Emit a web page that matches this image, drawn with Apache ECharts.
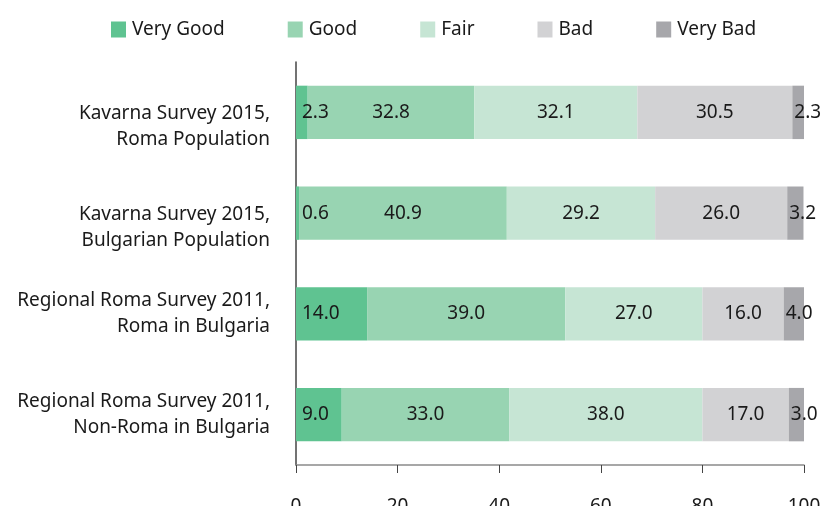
<!DOCTYPE html>
<html>
<head>
<meta charset="utf-8">
<script src="https://cdn.jsdelivr.net/npm/echarts@6/dist/echarts.min.js"></script>
<style>
  html, body { margin: 0; padding: 0; background: #fff; }
  #chart { width: 825px; height: 506px; }
</style>
</head>
<body>
<div id="chart"></div>
<script>
// survey groups, top to bottom
const categories = [
  'Kavarna Survey 2015,\nRoma Population',
  'Kavarna Survey 2015,\nBulgarian Population',
  'Regional Roma Survey 2011,\nRoma in Bulgaria',
  'Regional Roma Survey 2011,\nNon-Roma in Bulgaria'
]
const seriesNames = ['Very Good', 'Good', 'Fair', 'Bad', 'Very Bad']
const veryGood = [2.3, 0.6, 14.0, 9.0]
const good = [32.8, 40.9, 39.0, 33.0]
const fair = [32.1, 29.2, 27.0, 38.0]
const bad = [30.5, 26.0, 16.0, 17.0]
const veryBad = [2.3, 3.2, 4.0, 3.0]
const xTicks = [0, 20, 40, 60, 80, 100]

const colors = ['#5fc391', '#98d4b2', '#c6e5d4', '#d2d2d4', '#a7a7ab']
const font = 'Noto Sans'
const fontSize = 19

let chart = echarts.init(document.getElementById('chart'))

function makeSeries(name, values, idx) {
  let labelPos = 'inside'
  let dist = 5
  if (idx === 0) { labelPos = 'insideLeft'; dist = 6 }
  if (idx === 4) { labelPos = 'insideLeft'; dist = 2 }
  return {
    name: name,
    type: 'bar',
    stack: 'total',
    barWidth: '53%',
    itemStyle: { color: colors[idx] },
    label: {
      show: true,
      position: labelPos,
      distance: dist,
      color: '#1a1a1a',
      fontFamily: font,
      fontSize: fontSize,
      formatter: p => p.value.toFixed(1)
    },
    emphasis: { disabled: true },
    data: values
  }
}

let option = {
  animation: false,
  legend: {
    left: 106,
    top: 15,
    itemWidth: 15,
    itemHeight: 16,
    itemGap: 63,
    icon: 'rect',
    textStyle: { fontFamily: font, fontSize: fontSize, color: '#1a1a1a', padding: [0, 0, 0, 1] },
    data: seriesNames
  },
  grid: {
    left: 296,
    right: 21,
    top: 62,
    bottom: 41,
    outerBoundsMode: 'none'
  },
  xAxis: {
    type: 'value',
    min: 0,
    max: 100,
    interval: 20,
    axisLine: { show: true, lineStyle: { color: '#8a8a8a', width: 1.5 } },
    axisTick: { show: true, length: 8, lineStyle: { color: '#444' } },
    splitLine: { show: false },
    axisLabel: {
      margin: 32,
      fontFamily: font,
      fontSize: fontSize,
      color: '#1a1a1a',
      formatter: v => xTicks.includes(v) ? String(v) : ''
    }
  },
  yAxis: {
    type: 'category',
    inverse: true,
    data: categories,
    axisLine: { show: true, lineStyle: { color: '#444', width: 1.5 } },
    axisTick: { show: false },
    axisLabel: {
      margin: 26,
      color: '#1a1a1a',
      fontFamily: font,
      fontSize: fontSize,
      align: 'right',
      formatter: (v, i) => {
        let lines = v.split('\n').map(s => '{t|' + s + '}')
        // the Kavarna labels sit a bit lower than their bars
        if (i < 2) lines.unshift('{sp| }')
        return lines.join('\n')
      },
      rich: {
        t: { fontFamily: font, fontSize: fontSize, color: '#1a1a1a', lineHeight: 26, align: 'right' },
        sp: { fontSize: 4, lineHeight: 28 }
      }
    }
  },
  series: [
    makeSeries('Very Good', veryGood, 0),
    makeSeries('Good', good, 1),
    makeSeries('Fair', fair, 2),
    makeSeries('Bad', bad, 3),
    makeSeries('Very Bad', veryBad, 4)
  ]
}
chart.setOption(option)
</script>
</body>
</html>
